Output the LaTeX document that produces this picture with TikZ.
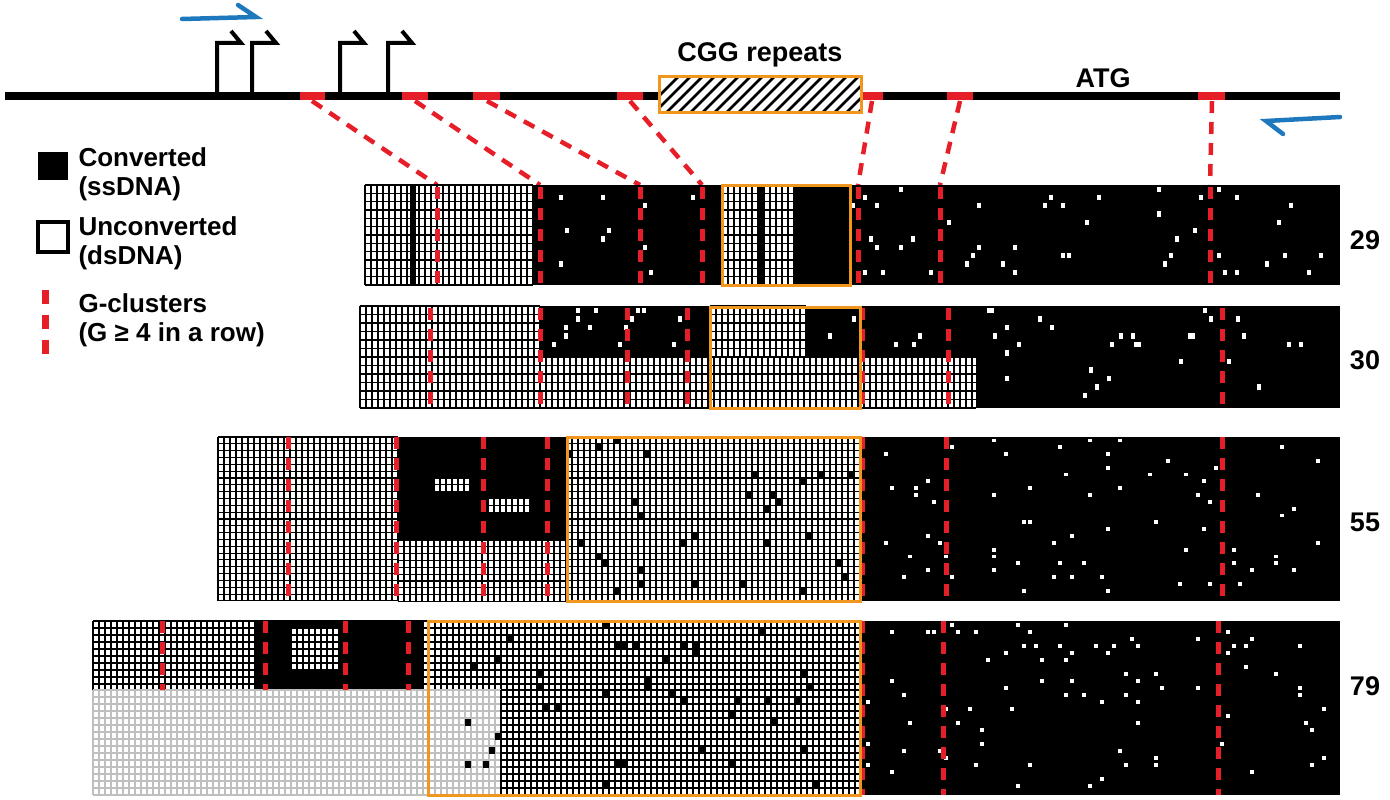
\documentclass[tikz,border=0pt]{standalone}
\usepackage{fontspec}
\setmainfont{Liberation Sans}
\definecolor{org}{RGB}{240,150,30}
\definecolor{dred}{RGB}{230,30,40}
\definecolor{blu}{RGB}{30,120,190}
\newcommand{\gbox}[6][black]{\fill[white] (#2,#3) rectangle (#4,#5);
 \pgfmathtruncatemacro{\nc}{(#4-#2)/6}\pgfmathtruncatemacro{\nr}{round((#5-#3)/#6)}%
 \foreach \i in {0,...,\nc}{\draw[gridl,#1] ({#2+6*\i},#3) -- ({#2+6*\i},#5);}
 \foreach \i in {0,...,\nr}{\draw[gridl,#1] (#2,{#3+#6*\i}) -- (#4,{#3+#6*\i});}}
\newcommand{\blk}[4]{\fill[black] (#1,#2) rectangle (#3,#4);}
\newcommand{\wdots}[6]{\foreach \k in {1,...,#5}{%
 \pgfmathsetmacro{\xx}{#1+6*int(rnd*(#3-#1-6)/6)}%
 \pgfmathsetmacro{\yy}{#2+#6*int(rnd*(#4-#2-#6)/#6)}%
 \fill[white] (\xx+1,\yy+1.5) rectangle (\xx+5,{\yy+#6-1.5});}}
\newcommand{\rdash}[3]{\draw[gcl] (#1,#2) -- (#1,#3);}
\begin{document}
\begin{tikzpicture}[x=1pt,y=-1pt,
 gridl/.style={line width=1.1pt},
 gcl/.style={dred,line width=5pt,dash pattern=on 12pt off 9pt},
 obox/.style={org,line width=3pt},
 lab/.style={font=\fontsize{26}{29}\selectfont\bfseries,align=left,anchor=west},
 num/.style={font=\fontsize{27}{30}\selectfont\bfseries}]
\useasboundingbox (0,0) rectangle (1390,800);
\pgfmathsetseed{7}
% top line
\draw[line width=7pt] (5,96) -- (1340,96);
\foreach \a/\b in {300/325,402/428,473/500,617/643,862/883,947/973,1198/1225}
 \draw[dred,line width=7pt] (\a,96) -- (\b,96);
\fill[white] (659,77) rectangle (861,112);
\begin{scope}
\clip (659,77) rectangle (861,112);
\foreach \h in {0,12,...,260}{\draw[line width=2.5pt] (640+\h,115) -- (680+\h,75);}
\end{scope}
\node[draw=org,line width=3pt,minimum width=202pt,minimum height=36pt,inner sep=0] (cgg) at (760,94.5) {};
\node[num] (cggt) at (760,55) {CGG repeats};
\node[num] (atg) at (1103,78) {ATG};
% promoters
\foreach \p in {217,252,340,388}{
 \draw[line width=4pt,line join=miter] (\p,93) -- (\p,43) -- (\p+24,43) -- (\p+14,31);}
% primers
\draw[blu,line width=4.5pt,line cap=round] (182,19) -- (256,17) -- (238,5);
\draw[blu,line width=4.5pt,line cap=round] (1340,117) -- (1266,121) -- (1283,134);
% connectors
\foreach \a/\b in {312/437,415/540,487/640,630/702,872/858,960/940,1212/1210}
 \draw[dred,line width=4.5pt,dash pattern=on 12pt off 9pt] (\a,101) -- (\b,185);
% legend
\fill (38,152) rectangle (68,180);
\draw[line width=3.5pt] (38,222) rectangle (68,252);
\draw[dred,line width=7pt,dash pattern=on 14pt off 11pt] (45,290) -- (45,354);
\node[lab] (l1) at (75,174) {Converted\\(ssDNA)};
\node[lab] (l2) at (75,243) {Unconverted\\(dsDNA)};
\node[lab] (l3) at (75,320) {G-clusters\\(G ≥ 4 in a row)};
% panel 1
\blk{365}{185}{1340}{285}
\gbox{365}{185}{533}{285}{8.33}
\blk{410}{185}{416}{285}
\gbox{722}{185}{794}{285}{8.33}
\blk{758}{185}{764}{285}
\wdots{540}{185}{720}{285}{10}{8.33}
\wdots{850}{185}{1335}{285}{45}{8.33}
\foreach \x in {437,540,640,702,858,940,1210}{\rdash{\x}{187}{285}}
\draw[obox] (722,185) rectangle (850,285);
\node[num] (n29) at (1365,240) {29};
% panel 2
\blk{360}{306}{1340}{408}
\gbox{360}{306}{540}{357}{8.5}
\gbox{710}{306}{806}{357}{8.5}
\gbox{360}{357}{976}{408}{8.5}
\wdots{545}{306}{705}{357}{14}{8.5}
\wdots{980}{306}{1335}{408}{22}{8.5}
\wdots{815}{306}{1335}{357}{14}{8.5}
\foreach \x in {430,540,627,687,862,948,1222}{\rdash{\x}{308}{408}}
\draw[obox] (710,307) rectangle (860,408);
\node[num] (n30) at (1365,360) {30};
% panel 3
\blk{218}{437}{1340}{601}
\gbox{218}{437}{398}{601}{6.83}
\blk{398}{437}{566}{540}
\gbox{566}{437}{860}{601}{6.83}
\gbox{398}{540}{566}{601}{6.83}
\gbox{434}{478}{470}{491.66}{6.83}
\gbox{488}{498.5}{530}{512.2}{6.83}
\foreach \k in {1,...,30}{\pgfmathsetmacro{\xx}{566+6*int(rnd*48)}\pgfmathsetmacro{\yy}{437+6.83*int(rnd*23)}\fill (\xx,\yy) rectangle (\xx+6,\yy+6.83);}
\wdots{865}{437}{1335}{601}{70}{6.83}
\foreach \x in {288,396,483,547,862,946,1222}{\rdash{\x}{437}{601}}
\draw[obox] (567,437) rectangle (860,601);
\node[num] (n55) at (1365,522) {55};
% panel 4
\blk{93}{621}{1340}{795}
\gbox{93}{621}{861}{690}{7}
\blk{255}{621}{423}{690}
\gbox{291}{628}{339}{670}{7}
\gbox[black!25]{93}{690}{501}{795}{7}
\gbox{501}{690}{861}{795}{7}
\foreach \k in {1,...,40}{\pgfmathsetmacro{\xx}{429+6*int(rnd*70)}\pgfmathsetmacro{\yy}{621+7*int(rnd*24)}\fill (\xx,\yy) rectangle (\xx+6,\yy+7);}
\wdots{865}{621}{1335}{795}{80}{7}
\foreach \x in {162,265,345,408}{\rdash{\x}{621}{690}}
\foreach \x in {862,943,1218}{\rdash{\x}{621}{795}}
\draw[obox] (428,621) rectangle (860,795);
\node[num] (n79) at (1365,686) {79};
\end{tikzpicture}
\end{document}
